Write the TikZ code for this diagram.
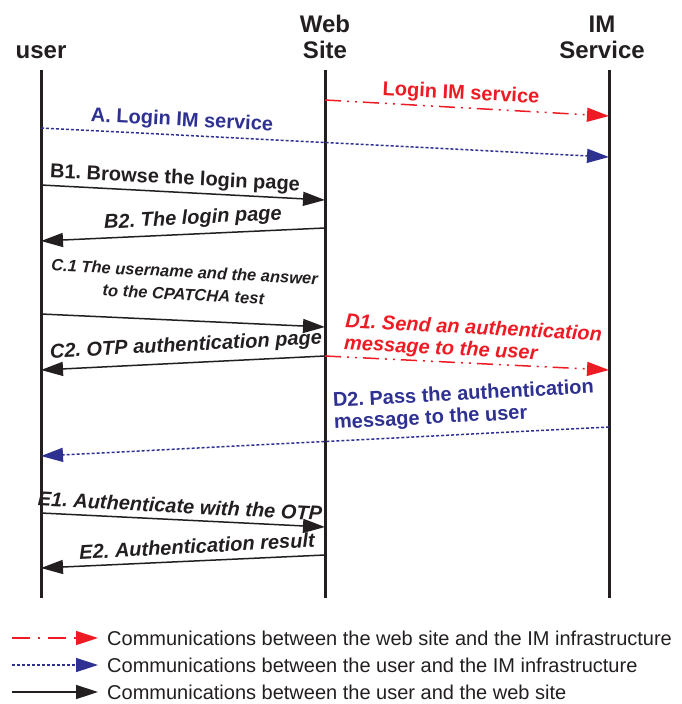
\documentclass[tikz,border=0pt]{standalone}
\usepackage{fontspec}
\setmainfont{Liberation Sans}
\usetikzlibrary{arrows.meta}
\definecolor{imred}{RGB}{237,28,36}
\definecolor{imblue}{RGB}{46,49,146}
\definecolor{ink}{RGB}{35,31,32}
\frenchspacing

\begin{document}
\begin{tikzpicture}[x=1pt,y=-1pt,
  life/.style={ink,line width=3pt},
  msg/.style={line width=1.5pt,-{Triangle[length=22pt,width=14pt]}},
  webmsg/.style={msg,imred,dash pattern=on 16pt off 6pt on 2pt off 6pt on 2pt off 6pt},
  usrmsg/.style={msg,imblue,dash pattern=on 3pt off 2pt},
  plainmsg/.style={msg,ink},
  head/.style={font=\fontsize{24}{26}\selectfont\bfseries,text=ink,align=center,inner sep=0pt},
  lbl/.style={font=\fontsize{20}{22}\selectfont\bfseries,inner sep=0pt,text=ink},
  ilbl/.style={font=\fontsize{20}{22}\selectfont\bfseries\itshape,inner sep=0pt,text=ink},
  small/.style={font=\fontsize{16.5}{22.5}\selectfont\bfseries\itshape,inner sep=0pt,text=ink},
  legend/.style={font=\fontsize{20}{22}\selectfont,inner sep=0pt,anchor=west,text=ink}
]
\useasboundingbox (0,0) rectangle (681,704);

% participants
\node[head] (huser) at (41,52) {user};
\node[head] (hweb)  at (325,37) {Web\\Site};
\node[head] (him)   at (602,37) {IM\\Service};

% lifelines
\coordinate (ut) at (41,70);  \coordinate (ub) at (41,598);
\coordinate (wt) at (325,70); \coordinate (wb) at (325,598);
\coordinate (it) at (609,70); \coordinate (ib) at (609,598);
\draw[life] (ut) -- (ub);
\draw[life] (wt) -- (wb);
\draw[life] (it) -- (ib);

% message end points
\coordinate (w0) at (325,100); \coordinate (i0) at (609,116);
\coordinate (uA) at (41,128);  \coordinate (iA) at (609,157);
\coordinate (uB1) at (41,185); \coordinate (wB1) at (325,200);
\coordinate (wB2) at (325,228); \coordinate (uB2) at (41,241);
\coordinate (uC1) at (41,314); \coordinate (wC1) at (325,327);
\coordinate (wC2) at (325,356); \coordinate (uC2) at (41,370);
\coordinate (iD1) at (609,370);
\coordinate (iD2) at (609,427); \coordinate (uD2) at (41,456);
\coordinate (uE1) at (41,513); \coordinate (wE1) at (325,527);
\coordinate (wE2) at (325,555); \coordinate (uE2) at (41,568);

% messages
\draw[webmsg] (w0) -- (i0);
\draw[usrmsg] (uA) -- (iA);
\draw[plainmsg] (uB1) -- (wB1);
\draw[plainmsg] (wB2) -- (uB2);
\draw[plainmsg] (uC1) -- (wC1);
\draw[plainmsg] (wC2) -- (uC2);
\draw[webmsg] (wC2) -- (iD1);
\draw[usrmsg] (iD2) -- (uD2);
\draw[plainmsg] (uE1) -- (wE1);
\draw[plainmsg] (wE2) -- (uE2);

% message labels
\node[lbl,text=imred,rotate=-3] (l0) at (461,94) {Login IM service};
\node[lbl,text=imblue,rotate=-3] (lA) at (182,121) {A. Login IM service};
\node[lbl,rotate=-3] (lB1) at (175,179) {B1. Browse the login page};
\node[ilbl,rotate=3] (lB2) at (193,219) {B2. The login page};
\node[small,rotate=-3,align=center] (lC1) at (184,283) {C.1 The username and the answer\\to the CPATCHA test};
\node[ilbl,rotate=3] (lC2) at (186,346) {C2. OTP authentication page};
\node[ilbl,text=imred,rotate=-3,align=left] (lD1) at (473,340) {D1. Send an authentication\\message to the user};
\node[lbl,text=imblue,rotate=3,align=left] (lD2) at (464,406) {D2. Pass the authentication\\message to the user};
\node[ilbl,rotate=-3] (lE1) at (180,506) {E1. Authenticate with the OTP};
\node[ilbl,rotate=3] (lE2) at (197,546) {E2. Authentication result};

% legend
\coordinate (k1a) at (12,638); \coordinate (k1b) at (98,638);
\coordinate (k2a) at (12,665); \coordinate (k2b) at (98,665);
\coordinate (k3a) at (12,692); \coordinate (k3b) at (98,692);
\draw[webmsg,dash pattern=on 18pt off 8pt on 2pt off 8pt] (k1a) -- (k1b);
\draw[usrmsg] (k2a) -- (k2b);
\draw[plainmsg] (k3a) -- (k3b);
\node[legend] (t1) at (107,638) {Communications between the web site and the IM infrastructure};
\node[legend] (t2) at (107,665) {Communications between the user and the IM infrastructure};
\node[legend] (t3) at (107,692) {Communications between the user and the web site};
\end{tikzpicture}
\end{document}
